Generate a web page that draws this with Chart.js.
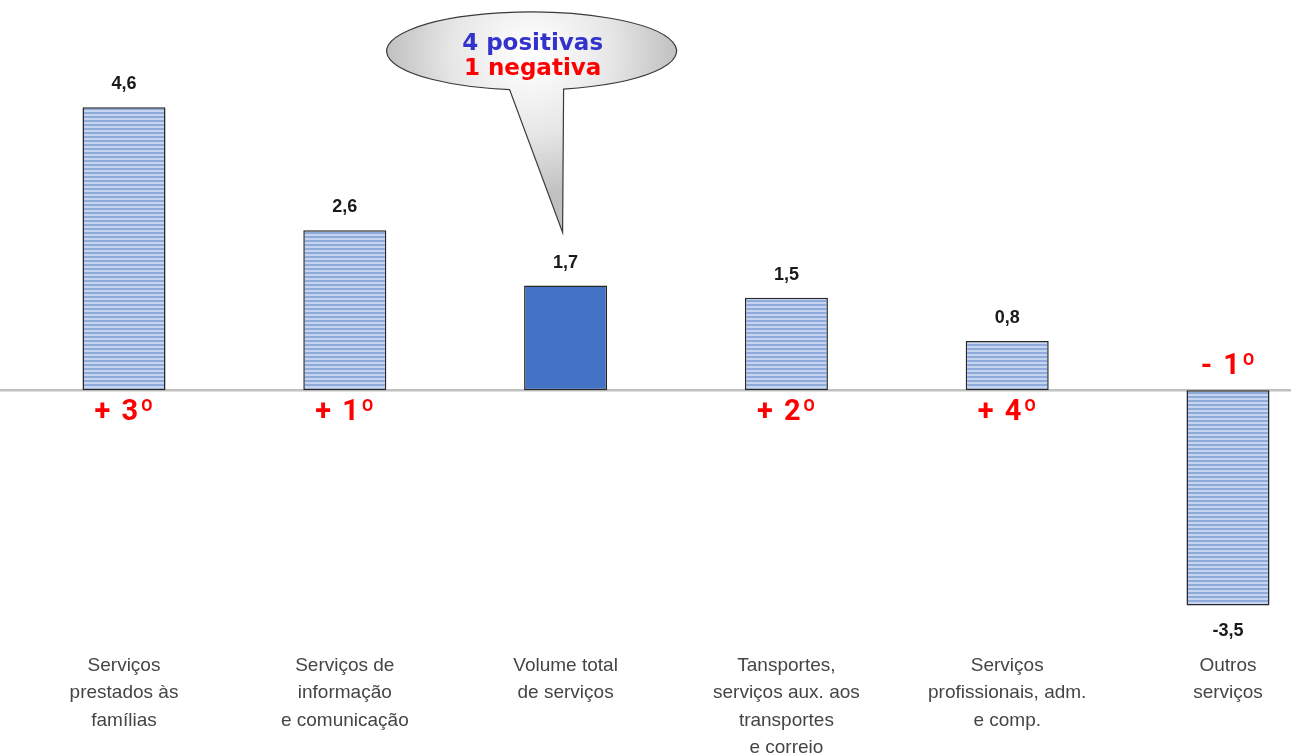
<!DOCTYPE html>
<html lang="pt">
<head>
    <meta charset="UTF-8">
    <title>Volume de serviços</title>
    <script src="https://cdn.jsdelivr.net/npm/chart.js"></script>
    <style>
        body {
            margin: 0;
            padding: 0;
            background: #ffffff;
            overflow: hidden;
        }
        .chart-container {
            position: relative;
            width: 1291px;
            height: 755px;
        }
    </style>
</head>
<body>
    <div class="chart-container">
        <canvas id="servicosChart"></canvas>
    </div>

    <script>
        const categories = [
            ["Serviços", "prestados às", "famílias"],
            ["Serviços de", "informação", "e comunicação"],
            ["Volume total", "de serviços"],
            ["Tansportes,", "serviços aux. aos", "transportes", "e correio"],
            ["Serviços", "profissionais, adm.", "e comp."],
            ["Outros", "serviços"]
        ];
        const values = [4.6, 2.6, 1.7, 1.5, 0.8, -3.5];
        const ranks = ["+ 3º", "+ 1º", "", "+ 2º", "+ 4º", "- 1º"];
        const totalIndex = 2;
        const calloutLines = ["4 positivas", "1 negativa"];

        // striped fill used by the activity bars
        function stripePattern() {
            const c = document.createElement("canvas");
            c.width = 8;
            c.height = 4;
            const g = c.getContext("2d");
            g.fillStyle = "#c6d4ef";
            g.fillRect(0, 0, 8, 4);
            g.fillStyle = "#8eaadb";
            g.fillRect(0, 0, 8, 2);
            return g.createPattern(c, "repeat");
        }
        const stripes = stripePattern();

        const labelsPlugin = {
            id: "labelsPlugin",
            beforeDatasetsDraw(chart) {
                const ctx = chart.ctx;
                const y0 = chart.scales.y.getPixelForValue(0);
                ctx.save();
                ctx.strokeStyle = "#c0c0c0";
                ctx.lineWidth = 2.5;
                ctx.beginPath();
                ctx.moveTo(0, y0);
                ctx.lineTo(chart.width, y0);
                ctx.stroke();
                ctx.restore();
            },
            afterDatasetsDraw(chart) {
                const ctx = chart.ctx;
                const meta = chart.getDatasetMeta(0);
                const y0 = chart.scales.y.getPixelForValue(0);
                ctx.save();
                ctx.textAlign = "center";
                ctx.textBaseline = "middle";
                meta.data.forEach((bar, i) => {
                    const v = values[i];
                    const txt = v.toFixed(1).replace(".", ",");
                    ctx.font = "bold 18px 'Liberation Sans', Arial, sans-serif";
                    ctx.fillStyle = "#1a1a1a";
                    if (v >= 0) {
                        ctx.fillText(txt, bar.x, bar.y - 23);
                    } else {
                        ctx.fillText(txt, bar.x, bar.y + 26);
                    }
                    if (ranks[i]) {
                        ctx.font = "bold 29px Roboto, 'DejaVu Sans', sans-serif";
                        ctx.letterSpacing = "2px";
                        ctx.fillStyle = "#ff0000";
                        ctx.fillText(ranks[i], bar.x + 1, v >= 0 ? y0 + 23 : y0 - 23);
                        ctx.letterSpacing = "0px";
                    }
                });
                ctx.restore();
            },
            afterDraw(chart) {
                // speech bubble pointing to the total bar
                const ctx = chart.ctx;
                const bar = chart.getDatasetMeta(0).data[totalIndex];
                const tipX = bar.x - 3;
                const tipY = bar.y - 53;
                const cx = tipX - 31;
                const cy = 51;
                const rx = 145;
                const ry = 39;
                ctx.save();
                const grad = ctx.createRadialGradient(cx, cy + 5, 5, cx, cy, rx);
                grad.addColorStop(0, "#ffffff");
                grad.addColorStop(0.55, "#e6e6e6");
                grad.addColorStop(1, "#c0c0c0");
                ctx.beginPath();
                // ellipse from tail right side around to tail left side
                const aRight = Math.acos((tipX + 1 - cx) / rx);
                const aLeft = Math.acos((tipX - 53 - cx) / rx);
                ctx.ellipse(cx, cy, rx, ry, 0, aRight, aLeft + 0.0001, true);
                ctx.lineTo(tipX, tipY);
                ctx.closePath();
                ctx.fillStyle = grad;
                ctx.fill();
                ctx.strokeStyle = "#3a3a3a";
                ctx.lineWidth = 1.2;
                ctx.stroke();

                ctx.textAlign = "center";
                ctx.textBaseline = "middle";
                ctx.font = "bold 23px 'DejaVu Sans', Verdana, sans-serif";
                ctx.fillStyle = "#3333cc";
                ctx.fillText(calloutLines[0], cx + 1, cy - 7);
                ctx.fillStyle = "#ff0000";
                ctx.fillText(calloutLines[1], cx + 1, cy + 18);
                ctx.restore();
            }
        };

        const ctx = document.getElementById("servicosChart").getContext("2d");
        new Chart(ctx, {
            type: "bar",
            data: {
                labels: categories,
                datasets: [{
                    data: values,
                    backgroundColor: values.map((v, i) => i === totalIndex ? "#4472c4" : stripes),
                    borderColor: "#262626",
                    borderWidth: 1.5,
                    borderSkipped: false,
                    barPercentage: 1,
                    categoryPercentage: 0.376,
                    clip: false
                }]
            },
            options: {
                responsive: true,
                maintainAspectRatio: false,
                animation: false,
                layout: {
                    padding: { left: 124, right: 63, top: 21, bottom: -25 }
                },
                plugins: {
                    legend: { display: false },
                    tooltip: { enabled: false }
                },
                scales: {
                    x: {
                        offset: false,
                        grid: { display: false, drawTicks: false },
                        border: { display: false },
                        ticks: {
                            autoSkip: false,
                            maxRotation: 0,
                            padding: 18,
                            color: "#454545",
                            font: { family: "'Liberation Sans', Arial, sans-serif", size: 19, lineHeight: 1.45 }
                        }
                    },
                    y: {
                        display: false,
                        min: -3.96,
                        max: 6
                    }
                }
            },
            plugins: [labelsPlugin]
        });
    </script>
</body>
</html>
